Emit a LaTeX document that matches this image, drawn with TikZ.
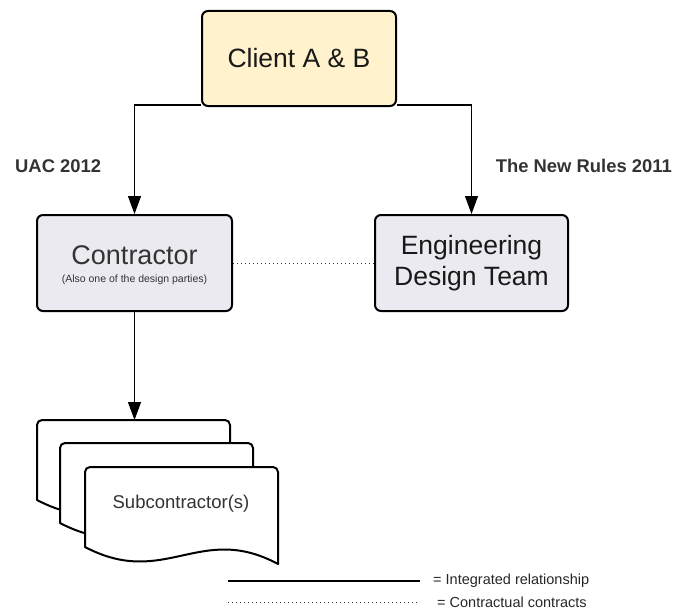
\documentclass[tikz,border=0pt]{standalone}
\usepackage{fontspec}
\setmainfont{Liberation Sans}
\usetikzlibrary{arrows.meta}
\definecolor{clientfill}{HTML}{FFF2CC}
\definecolor{boxfill}{HTML}{ECEAF1}
\definecolor{txt}{HTML}{333333}
\tikzset{
  box/.style={draw=black, line width=2pt, rounded corners=6pt, inner sep=0pt, align=center},
  conn/.style={draw=black, line width=1.2pt, -{Triangle[length=18pt,width=13pt]}},
  dotline/.style={draw=black!80, line width=0.9pt, dash pattern=on 1pt off 3pt},
  doc/.style={draw=black, line width=2pt, fill=white, line join=round},
  lbl/.style={font=\fontsize{18.4}{20}\selectfont\bfseries, text=txt, inner sep=0pt},
  leg/.style={font=\fontsize{14.5}{16}\selectfont, text=black!85, inner sep=0pt, anchor=west}
}
\newcommand{\docshape}[2]{%
  \draw[doc] (#1,#2+80) [rounded corners=5pt] -- (#1,#2) -- (#1+193,#2) [sharp corners] -- (#1+193,#2+97)
    .. controls (#1+115,#2+55) and (#1+80,#2+122) .. (#1,#2+80) -- cycle;}
\begin{document}
\begin{tikzpicture}[x=1pt,y=-1pt]
\useasboundingbox (0,0) rectangle (675,610);
% nodes
\node[box, fill=clientfill, minimum width=194pt, minimum height=95pt,
      font=\fontsize{26.5}{30}\selectfont, text=black!90] (client) at (299,58.5) {Client A \& B};
\node[box, fill=boxfill, minimum width=195pt, minimum height=96pt] (contr) at (134.5,263) {};
\node[text=txt, font=\fontsize{27}{30}\selectfont, inner sep=0pt] (contrt) at (134.5,255) {Contractor};
\node[text=txt, font=\fontsize{10.5}{12}\selectfont, inner sep=0pt] (contrs) at (134.5,280) {(Also one of the design parties)};
\node[box, fill=boxfill, minimum width=193pt, minimum height=96pt,
      font=\fontsize{26.5}{31}\selectfont, text=black!90] (eng) at (471.5,263) {Engineering\\Design Team};
% labels
\node[lbl, anchor=west] (uac) at (15,166) {UAC 2012};
\node[lbl, anchor=east] (nr) at (672,166) {The New Rules 2011};
% subcontractor documents
\docshape{37}{420}
\docshape{60}{443}
\docshape{85}{467}
\coordinate (doc1top) at (134.5,420);
\node[text=txt, font=\fontsize{18.5}{20}\selectfont, inner sep=0pt] (sub) at (181,504) {Subcontractor(s)};
% connectors
\coordinate (cl) at (client.west |- 0,105);
\coordinate (cr) at (client.east |- 0,105);
\draw[conn] (cl) -| (contr.north);
\draw[conn] (cr) -| (eng.north);
\draw[conn] (contr.south) -- (doc1top);
\draw[dotline] (contr.east) -- (eng.west);
% legend
\coordinate (l1a) at (228,581); \coordinate (l1b) at (420,581);
\coordinate (l2a) at (228,602); \coordinate (l2b) at (420,602);
\draw[line width=1.2pt] (l1a) -- (l1b);
\draw[dotline, line width=0.8pt] (l2a) -- (l2b);
\node[leg] (leg1) at (433,581) {= Integrated relationship};
\node[leg] (leg2) at (437,602) {= Contractual contracts};
\end{tikzpicture}
\end{document}
